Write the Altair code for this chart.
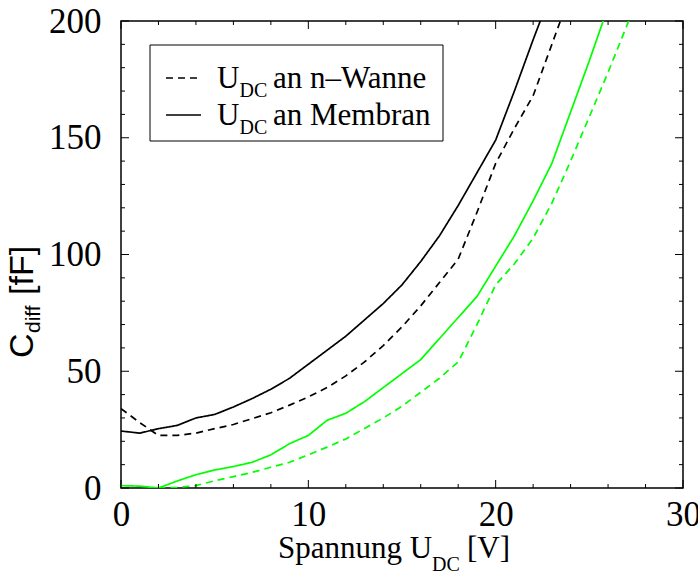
import altair as alt
import pandas as pd

# ---------------- data ----------------
x_nwanne_black = list(range(0, 25))
y_nwanne_black = [34, 28, 22.5, 22.5, 23.5, 25.4, 27.2, 29.7, 32.2, 35.5, 39, 43, 48,
                  54, 61, 69, 78, 88, 98, 118, 139, 154, 168, 190, 212]
x_membran_black = list(range(0, 24))
y_membran_black = [24.4, 23.5, 25.4, 26.8, 30, 31.5, 34.7, 38.3, 42.3, 47, 53, 59, 65,
                   72, 79, 87, 97, 108, 121, 135, 149, 170, 192, 213]
x_membran_green = list(range(0, 27))
y_membran_green = [1, 0.8, 0, 3, 5.7, 7.7, 9.2, 11, 14.2, 19, 22.5, 29, 32, 37, 43, 49,
                   55, 64, 73, 82, 95, 108, 123, 139, 161, 183, 206]
x_nwanne_green = list(range(2, 29))
y_nwanne_green = [0, 0.3, 1, 3.1, 4.9, 6.7, 8.9, 11, 14.2, 17.5, 21, 25.5, 30, 35, 41,
                  47, 54, 70, 87, 96, 107, 122, 140, 159, 178, 198, 218]

series_names = ["nw_black", "mem_black", "mem_green", "nw_green"]
series_colors = ["#000000", "#000000", "#00ff00", "#00ff00"]
series_dashes = [[7, 5], [1, 0], [1, 0], [7, 5]]

x_ticks_major = [0, 10, 20, 30]
x_ticks_minor = [2, 4, 6, 8, 12, 14, 16, 18, 22, 24, 26, 28]
y_ticks_major = [0, 50, 100, 150, 200]
y_ticks_minor = [10, 20, 30, 40, 60, 70, 80, 90, 110, 120, 130, 140, 160, 170, 180, 190]

rows = []
for name, xs_, ys_ in zip(series_names,
                          [x_nwanne_black, x_membran_black, x_membran_green, x_nwanne_green],
                          [y_nwanne_black, y_membran_black, y_membran_green, y_nwanne_green]):
    for a, b in zip(xs_, ys_):
        rows.append({"series": name, "x": a, "y": b})
df = pd.DataFrame(rows)

# ---------------- layout ----------------
W, H = 562, 467
SERIF = "Liberation Serif"
SANS = "Liberation Sans"
TICKFS = 35
LEGFS = 31
LEGSUB = 20
TITFS = 31
TITSUB = 20

xs = alt.Scale(domain=[0, 30], nice=False, zero=False)
ys = alt.Scale(domain=[0, 200], nice=False, zero=False)

lines = alt.Chart(df).mark_line(clip=True, strokeWidth=1.7).encode(
    x=alt.X("x:Q", scale=xs, axis=alt.Axis(values=x_ticks_major, ticks=False, tickSize=0,
                                           domain=False, grid=False, labelFont=SERIF,
                                           labelFontSize=TICKFS, labelColor="black",
                                           labelPadding=9, labelFlush=False,
                                           labelOverlap=False, title=None, format="d")),
    y=alt.Y("y:Q", scale=ys, axis=alt.Axis(values=y_ticks_major, ticks=False, tickSize=0,
                                           domain=False, grid=False, labelFont=SERIF,
                                           labelFontSize=TICKFS, labelColor="black",
                                           labelPadding=20, labelFlush=False,
                                           labelOverlap=False, title=None, format="d")),
    color=alt.Color("series:N", scale=alt.Scale(domain=series_names, range=series_colors), legend=None),
    strokeDash=alt.StrokeDash("series:N", scale=alt.Scale(domain=series_names, range=series_dashes), legend=None),
    order=alt.Order("x:Q"),
)


def xtick_layers(vals, length):
    d = pd.DataFrame({"v": vals})
    base = alt.Chart(d).mark_rule(color="black", strokeWidth=1)
    return [
        base.encode(x=alt.X("v:Q", scale=xs), y=alt.value(H), y2=alt.value(H - length)),
        base.encode(x=alt.X("v:Q", scale=xs), y=alt.value(0), y2=alt.value(length)),
    ]


def ytick_layers(vals, length):
    d = pd.DataFrame({"v": vals})
    base = alt.Chart(d).mark_rule(color="black", strokeWidth=1)
    return [
        base.encode(y=alt.Y("v:Q", scale=ys), x=alt.value(0), x2=alt.value(length)),
        base.encode(y=alt.Y("v:Q", scale=ys), x=alt.value(W), x2=alt.value(W - length)),
    ]


ticks = (xtick_layers(x_ticks_major, 8) + xtick_layers(x_ticks_minor, 4)
         + ytick_layers(y_ticks_major, 8) + ytick_layers(y_ticks_minor, 4))

one = pd.DataFrame({"a": [0]})


def txt(s, x, y, font=SERIF, size=LEGFS, angle=0):
    kw = dict(align="left", baseline="alphabetic", font=font, fontSize=size, color="black")
    if angle:
        kw["angle"] = angle
    return alt.Chart(one).mark_text(**kw).encode(text=alt.value(s), x=alt.value(x), y=alt.value(y))


# legend
legend_box = alt.Chart(one).mark_rect(fill="white", stroke="black", strokeWidth=1).encode(
    x=alt.value(29), x2=alt.value(322), y=alt.value(24), y2=alt.value(120))
leg_dash = alt.Chart(one).mark_rule(color="black", strokeWidth=1.7, strokeDash=[7, 5]).encode(
    x=alt.value(45), x2=alt.value(78), y=alt.value(57))
leg_solid = alt.Chart(one).mark_rule(color="black", strokeWidth=1.7).encode(
    x=alt.value(45), x2=alt.value(80), y=alt.value(94))

legend = [
    legend_box, leg_dash, leg_solid,
    txt("U", 96, 67), txt("DC", 118.5, 75.5, size=LEGSUB), txt("an n\u2013Wanne", 152, 67),
    txt("U", 96, 104), txt("DC", 118.5, 112.5, size=LEGSUB), txt("an Membran", 152, 104),
]

# axis titles
titles = [
    txt("Spannung U", 157, 537, size=TITFS), txt("DC", 311, 550, size=TITSUB),
    txt("[V]", 346, 537, size=TITFS),
    txt("C", -88, 337, font=SANS, size=34, angle=270),
    txt("diff", -81, 312, font=SANS, size=21, angle=270),
    txt("[fF]", -88, 274, font=SANS, size=34, angle=270),
]

chart = alt.layer(lines, *ticks, *legend, *titles).properties(
    width=W, height=H,
    autosize=alt.AutoSizeParams(type="none"),
    padding={"left": 121, "top": 21, "right": 15, "bottom": 88},
).configure_view(stroke="black", strokeWidth=1.5)

chart.save("out.html", embed_options={"renderer": "svg", "actions": False})
